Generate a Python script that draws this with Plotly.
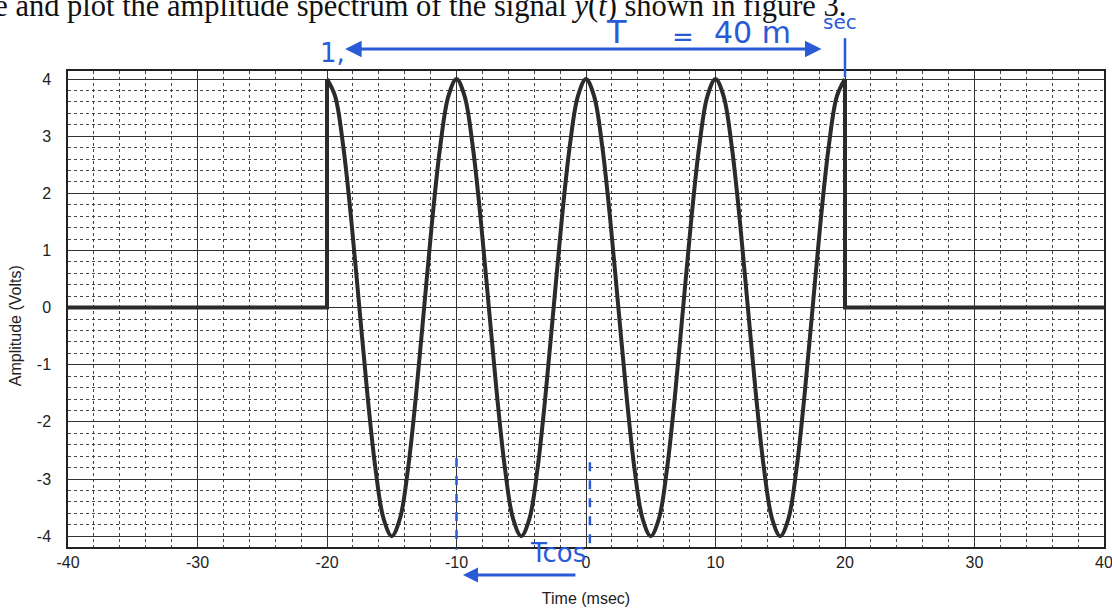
import plotly.graph_objects as go

# ---- data ----
left_t = [-40, -20, -20]
left_y = [0, 0, 4]
cycle_y = [4, 3.7, 2.83, 1.53, 0, -1.53, -2.83, -3.7,
           -4, -3.7, -2.83, -1.53, 0, 1.53, 2.83, 3.7]
osc_t = [-20 + 0.625 * k for k in range(65)]
osc_y = cycle_y * 4 + [4]
right_t = [20, 20, 40]
right_y = [4, 0, 0]

x_ticks = [-40, -30, -20, -10, 0, 10, 20, 30, 40]
y_ticks = [-4, -3, -2, -1, 0, 1, 2, 3, 4]

FONT = "Liberation Sans, Arial"
LINE = dict(color="#2b2b2b", width=4)
BLUE = "#2a5bd7"
HAND = "DejaVu Sans"

fig = go.Figure()
fig.add_trace(go.Scatter(x=left_t, y=left_y, mode="lines", line=LINE, showlegend=False))
fig.add_trace(go.Scatter(x=osc_t, y=osc_y, mode="lines",
                         line=dict(color=LINE["color"], width=4, shape="spline", smoothing=1),
                         showlegend=False))
fig.add_trace(go.Scatter(x=right_t, y=right_y, mode="lines", line=LINE, showlegend=False))

fig.update_xaxes(
    range=[-40, 40], tickvals=x_ticks, ticktext=[str(v) for v in x_ticks],
    showgrid=True, gridcolor="#333", gridwidth=1, zeroline=False,
    showline=True, linecolor="#222", linewidth=1.5, mirror=True,
    ticks="", ticklabelstandoff=0, automargin=False, ticklabeloverflow="allow",
    tickfont=dict(family=FONT, size=16, color="#222"),
    title=dict(text="Time (msec)", font=dict(family=FONT, size=16, color="#222"), standoff=23),
    minor=dict(dtick=2, showgrid=True, gridcolor="#444", griddash="dot", gridwidth=1),
)
fig.update_yaxes(
    range=[-4.19, 4.14], tickvals=y_ticks, ticktext=[str(v) for v in y_ticks],
    showgrid=True, gridcolor="#333", gridwidth=1, zeroline=False,
    showline=True, linecolor="#222", linewidth=1.5, mirror=True,
    ticks="", ticklabelstandoff=12, automargin=False,
    tickfont=dict(family=FONT, size=16, color="#222"),
    minor=dict(dtick=0.2, showgrid=True, gridcolor="#444", griddash="dot", gridwidth=1),
)

shapes = [
    # blue dashed verticals near bottom
    dict(type="line", xref="x", yref="paper", x0=-10, x1=-10, y0=0.187, y1=-0.006,
         line=dict(color=BLUE, width=2.5, dash="dash")),
    dict(type="line", xref="x", yref="paper", x0=0.3, x1=0.3, y0=0.178, y1=-0.006,
         line=dict(color=BLUE, width=2.5, dash="dash")),
    # blue tick mark at top, t = 20
    dict(type="line", xref="x", yref="paper", x0=20, x1=20, y0=1.069, y1=0.987,
         line=dict(color=BLUE, width=2.5)),
]

def note(text, x, y, size, color=BLUE, family=HAND, **kw):
    return dict(text=text, xref="paper", yref="paper", x=x, y=y,
                xanchor=kw.pop("xanchor", "center"), yanchor="middle",
                showarrow=False, font=dict(family=family, size=size, color=color), **kw)

annotations = [
    # cropped question text at the top of the scan
    note("ne and plot the amplitude spectrum of the signal <i>y</i>(<i>t</i>) shown in figure 3.",
         -0.088, 1.136, 30.5, color="#111", family="Liberation Serif, Times New Roman",
         xanchor="left"),
    # y axis title
    note("Amplitude (Volts)", -0.0511, 0.464, 16, color="#222", family=FONT, textangle=-90),
    # handwritten double arrow: T = 40 msec
    dict(text="", xref="x", yref="paper", x=-18.6, y=1.046, ax=18.3, ay=0,
         axref="x", ayref="pixel", showarrow=True, arrowhead=2, arrowside="end+start",
         arrowsize=1.1, arrowwidth=3, arrowcolor=BLUE),
    note("T", 0.529, 1.082, 32),
    note("=", 0.594, 1.071, 26),
    note("40 m", 0.661, 1.080, 30),
    note("sec", 0.745, 1.103, 20),
    note("1,", 0.255, 1.038, 26),
    # handwritten Tcos with arrow underneath
    note("Tcos", 0.473, -0.0126, 26),
    dict(text="", xref="x", yref="paper", x=-9.5, y=-0.059, ax=-0.7, ay=0,
         axref="x", ayref="pixel", showarrow=True, arrowhead=2, arrowsize=1, arrowwidth=3,
         arrowcolor=BLUE),
]

fig.update_layout(
    width=1112, height=609,
    margin=dict(l=68, r=8, t=71, b=62),
    paper_bgcolor="white", plot_bgcolor="white",
    shapes=shapes, annotations=annotations,
    showlegend=False,
)

fig.write_html("out.html", config={"displayModeBar": False},
               post_script="document.body.style.margin='0';")
